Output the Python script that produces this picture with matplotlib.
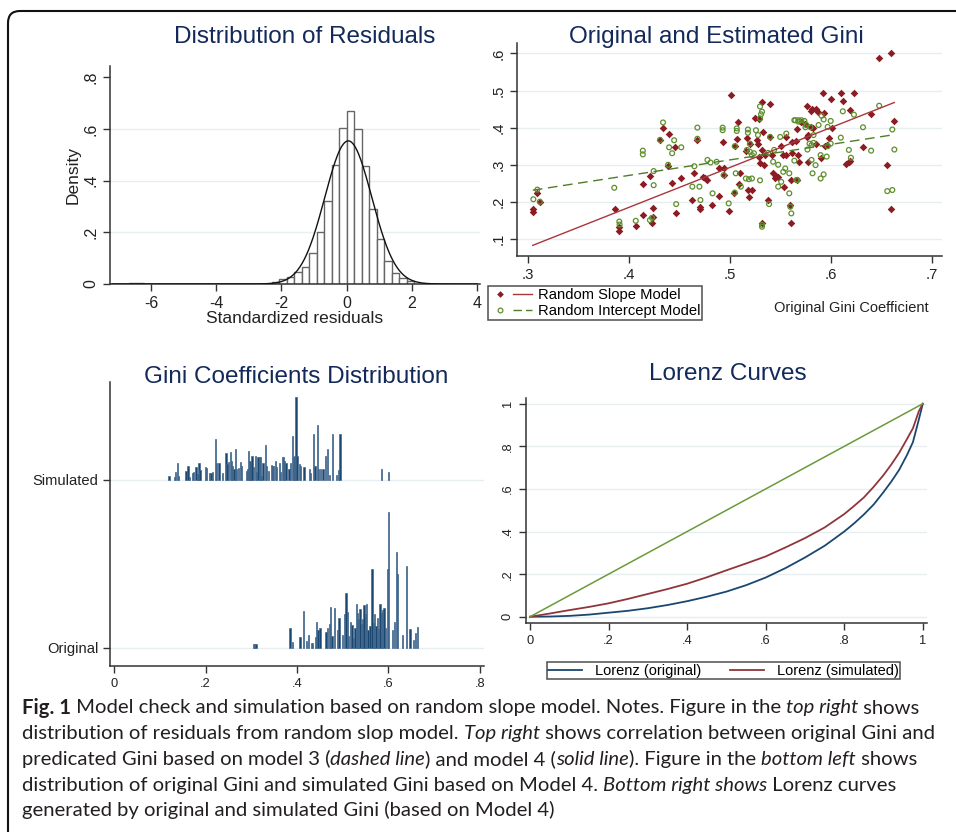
import numpy as np
import matplotlib
matplotlib.use("Agg")
import matplotlib.pyplot as plt
from matplotlib import font_manager, transforms
from matplotlib.patches import FancyBboxPatch
from matplotlib.lines import Line2D
from matplotlib.font_manager import FontProperties
from matplotlib.legend_handler import HandlerTuple

W, H = 956, 832

# ---- top left: residual histogram (bin left edges, density) ----
resid_binw = 0.23
resid_left = [-6.67, -6.44, -2.30, -2.07, -1.84, -1.61, -1.38, -1.15, -0.92, -0.69, -0.46, -0.23,
              0.00, 0.23, 0.46, 0.69, 0.92, 1.15, 1.38, 1.61, 1.84]
resid_dens = [0.004, 0.003, 0.009, 0.018, 0.028, 0.045, 0.067, 0.119, 0.200, 0.320, 0.460, 0.605,
              0.670, 0.600, 0.455, 0.290, 0.173, 0.090, 0.044, 0.022, 0.012]
resid_mean = 0.05
resid_sd = 0.72

# ---- top right: original vs estimated Gini ----
slope_x = [0.305, 0.305, 0.3095, 0.312, 0.386, 0.390, 0.390, 0.407, 0.414, 0.414, 0.421, 0.423, 0.424, 0.424,
           0.431, 0.501, 0.532, 0.540, 0.525, 0.529, 0.508, 0.434, 0.440, 0.533, 0.446, 0.468, 0.493, 0.507,
           0.505, 0.517, 0.520, 0.527, 0.528, 0.516, 0.532, 0.535, 0.540, 0.551, 0.553, 0.556, 0.562, 0.568,
           0.542, 0.529, 0.530, 0.534, 0.439, 0.452, 0.443, 0.465, 0.474, 0.476, 0.478, 0.489, 0.494, 0.494,
           0.510, 0.509, 0.504, 0.518, 0.522, 0.519, 0.489, 0.471, 0.471, 0.463, 0.482, 0.499, 0.447, 0.538,
           0.532, 0.543, 0.546, 0.548, 0.545, 0.561, 0.560, 0.561, 0.554, 0.562, 0.567, 0.556,
           0.648, 0.660, 0.592, 0.610, 0.623, 0.600, 0.612, 0.577, 0.581, 0.580, 0.585, 0.587, 0.593, 0.619,
           0.640, 0.663, 0.571, 0.575, 0.582, 0.580, 0.601, 0.566, 0.578, 0.577, 0.598, 0.585, 0.594, 0.596,
           0.569, 0.578, 0.590, 0.615, 0.618, 0.619, 0.632, 0.656, 0.660, 0.567]
slope_y = [0.182, 0.174, 0.223, 0.201, 0.181, 0.131, 0.122, 0.136, 0.248, 0.165, 0.271, 0.143, 0.158, 0.184,
           0.367, 0.488, 0.468, 0.465, 0.427, 0.422, 0.414, 0.398, 0.384, 0.389, 0.347, 0.366, 0.360, 0.369,
           0.350, 0.371, 0.357, 0.366, 0.356, 0.337, 0.340, 0.326, 0.375, 0.350, 0.326, 0.326, 0.333, 0.326,
           0.326, 0.321, 0.305, 0.299, 0.296, 0.265, 0.251, 0.277, 0.268, 0.264, 0.259, 0.290, 0.290, 0.272,
           0.277, 0.247, 0.225, 0.232, 0.232, 0.214, 0.216, 0.186, 0.180, 0.206, 0.191, 0.175, 0.169, 0.205,
           0.144, 0.277, 0.270, 0.266, 0.263, 0.259, 0.191, 0.144, 0.239, 0.362, 0.395, 0.376,
           0.587, 0.600, 0.494, 0.492, 0.494, 0.477, 0.472, 0.459, 0.450, 0.445, 0.449, 0.443, 0.440, 0.447,
           0.437, 0.418, 0.416, 0.411, 0.398, 0.402, 0.398, 0.364, 0.380, 0.375, 0.373, 0.356, 0.350, 0.353,
           0.308, 0.308, 0.317, 0.302, 0.308, 0.310, 0.348, 0.299, 0.182, 0.259]
icpt_x = [0.3056, 0.3095, 0.312, 0.3857, 0.3907, 0.391, 0.407, 0.414, 0.414, 0.421, 0.423, 0.4247, 0.4247, 0.431,
          0.434, 0.445, 0.440, 0.452, 0.443, 0.468, 0.468, 0.493, 0.493, 0.439, 0.465, 0.478, 0.481, 0.487,
          0.494, 0.463, 0.470, 0.506, 0.511, 0.505, 0.516, 0.519, 0.522, 0.530, 0.483, 0.471, 0.499, 0.447,
          0.539, 0.532, 0.532, 0.540, 0.550, 0.544, 0.555, 0.553, 0.551, 0.559, 0.560, 0.561, 0.548, 0.559,
          0.566, 0.564, 0.564, 0.568, 0.556, 0.507, 0.507, 0.505, 0.518, 0.518, 0.526, 0.528, 0.531, 0.532,
          0.530, 0.530, 0.517, 0.520, 0.522, 0.524, 0.543, 0.548, 0.520, 0.538,
          0.648, 0.612, 0.623, 0.591, 0.600, 0.593, 0.597, 0.565, 0.568, 0.571, 0.574, 0.576, 0.580, 0.575,
          0.583, 0.588, 0.632, 0.610, 0.661, 0.663, 0.640, 0.618, 0.583, 0.579, 0.577, 0.581, 0.600, 0.597,
          0.590, 0.596, 0.620, 0.581, 0.585, 0.582, 0.593, 0.590, 0.656, 0.661, 0.567]
icpt_y = [0.207, 0.233, 0.2005, 0.238, 0.147, 0.139, 0.149, 0.338, 0.328, 0.151, 0.157, 0.283, 0.245, 0.367,
          0.414, 0.366, 0.347, 0.347, 0.331, 0.400, 0.370, 0.400, 0.393, 0.300, 0.296, 0.313, 0.306, 0.308,
          0.272, 0.241, 0.241, 0.277, 0.241, 0.225, 0.263, 0.261, 0.263, 0.258, 0.223, 0.205, 0.196, 0.194,
          0.194, 0.133, 0.138, 0.375, 0.375, 0.340, 0.290, 0.281, 0.254, 0.277, 0.187, 0.169, 0.241, 0.223,
          0.259, 0.311, 0.420, 0.416, 0.384, 0.398, 0.391, 0.350, 0.395, 0.386, 0.393, 0.380, 0.436, 0.443,
          0.425, 0.457, 0.340, 0.335, 0.326, 0.331, 0.308, 0.300, 0.357, 0.332,
          0.459, 0.444, 0.435, 0.432, 0.418, 0.422, 0.402, 0.420, 0.420, 0.420, 0.418, 0.407, 0.401, 0.401,
          0.380, 0.407, 0.401, 0.373, 0.395, 0.341, 0.338, 0.340, 0.359, 0.357, 0.341, 0.353, 0.357, 0.350,
          0.326, 0.322, 0.319, 0.313, 0.299, 0.277, 0.274, 0.263, 0.229, 0.232, 0.259]
# fitted lines (coefficients of model 4 and model 3)
slope_b0, slope_b1 = -0.245, 1.075
icpt_b0, icpt_b1 = 0.104, 0.418

# ---- bottom left: spike plot of Gini values (height, 1 = gap between rows) ----
sim_x = [0.1197, 0.1321, 0.1336, 0.1379, 0.1401, 0.1569, 0.1613, 0.1642, 0.1708, 0.1729, 0.1788, 0.1817,
         0.1853, 0.1875, 0.1999, 0.2021, 0.2080, 0.2116, 0.2145, 0.2211, 0.2240, 0.2291, 0.2364, 0.2444,
         0.2466, 0.2503, 0.2546, 0.2568, 0.2590, 0.2619, 0.2656, 0.2678, 0.2721, 0.2758, 0.2780, 0.2889,
         0.2918, 0.2940, 0.2969, 0.2991, 0.3013, 0.3042, 0.3086, 0.3115, 0.3144, 0.3174, 0.3203, 0.3225,
         0.3254, 0.3305, 0.3334, 0.3371, 0.3436, 0.3458, 0.3487, 0.3524, 0.3553, 0.3611, 0.3640, 0.3677,
         0.3699, 0.3728, 0.3757, 0.3823, 0.3859, 0.3903, 0.3925, 0.3947, 0.3976, 0.3998, 0.4049, 0.4071,
         0.4151, 0.4268, 0.4297, 0.4355, 0.4392, 0.4443, 0.4472, 0.4516, 0.4567, 0.4625, 0.4669, 0.4705,
         0.4778, 0.4866, 0.4902, 0.4939, 0.5843, 0.6004]
sim_h = [0.026, 0.016, 0.046, 0.101, 0.026, 0.052, 0.082, 0.020, 0.042, 0.046, 0.080, 0.036,
         0.101, 0.060, 0.080, 0.072, 0.040, 0.044, 0.048, 0.245, 0.101, 0.101, 0.044, 0.159,
         0.095, 0.105, 0.165, 0.115, 0.085, 0.066, 0.185, 0.066, 0.072, 0.105, 0.085, 0.052,
         0.066, 0.171, 0.115, 0.105, 0.145, 0.076, 0.145, 0.046, 0.135, 0.139, 0.139, 0.026,
         0.099, 0.209, 0.085, 0.056, 0.089, 0.085, 0.082, 0.115, 0.076, 0.099, 0.046, 0.135,
         0.135, 0.115, 0.101, 0.066, 0.099, 0.264, 0.135, 0.145, 0.493, 0.145, 0.095, 0.085,
         0.080, 0.066, 0.040, 0.272, 0.085, 0.328, 0.066, 0.066, 0.066, 0.145, 0.185, 0.032,
         0.272, 0.032, 0.060, 0.272, 0.066, 0.046]
orig_x = [0.3042, 0.3071, 0.3100, 0.3844, 0.3902, 0.4063, 0.4136, 0.4209, 0.4245, 0.4318, 0.4340, 0.4398,
          0.4428, 0.4457, 0.4501, 0.4632, 0.4668, 0.4705, 0.4734, 0.4763, 0.4814, 0.4887, 0.4916, 0.4989,
          0.5040, 0.5069, 0.5099, 0.5128, 0.5172, 0.5201, 0.5230, 0.5266, 0.5296, 0.5317, 0.5347, 0.5376,
          0.5405, 0.5441, 0.5463, 0.5492, 0.5522, 0.5551, 0.5595, 0.5638, 0.5668, 0.5697, 0.5726, 0.5755,
          0.5784, 0.5813, 0.5843, 0.5872, 0.5901, 0.5930, 0.5974, 0.6003, 0.6091, 0.6127, 0.6178, 0.6200,
          0.6310, 0.6397, 0.6470, 0.6543, 0.6594, 0.6630]
orig_h = [0.022, 0.025, 0.022, 0.115, 0.034, 0.066, 0.219, 0.040, 0.074, 0.030, 0.030, 0.066,
          0.153, 0.103, 0.119, 0.095, 0.119, 0.143, 0.245, 0.070, 0.239, 0.103, 0.179, 0.074,
          0.199, 0.328, 0.215, 0.070, 0.155, 0.135, 0.060, 0.119, 0.258, 0.209, 0.169, 0.229,
          0.139, 0.169, 0.252, 0.199, 0.262, 0.103, 0.129, 0.471, 0.149, 0.203, 0.129, 0.179,
          0.109, 0.262, 0.209, 0.223, 0.239, 0.119, 0.471, 0.811, 0.103, 0.153, 0.571, 0.437,
          0.074, 0.487, 0.109, 0.044, 0.089, 0.123]

# ---- bottom right: Lorenz curves ----
lorenz_p = [0, 0.05, 0.1, 0.15, 0.2, 0.25, 0.3, 0.35, 0.4, 0.45, 0.5, 0.55, 0.6, 0.65, 0.7, 0.75,
            0.8, 0.825, 0.85, 0.875, 0.9, 0.92, 0.94, 0.96, 0.975, 0.99, 1.0]
lorenz_orig = [0, 0.001, 0.004, 0.010, 0.019, 0.028, 0.040, 0.055, 0.073, 0.094, 0.118, 0.148, 0.184, 0.228,
               0.278, 0.333, 0.400, 0.438, 0.480, 0.527, 0.585, 0.635, 0.690, 0.760, 0.820, 0.926, 1.0]
lorenz_sim = [0, 0.015, 0.031, 0.046, 0.063, 0.084, 0.107, 0.130, 0.155, 0.185, 0.218, 0.250, 0.283, 0.325,
              0.369, 0.419, 0.482, 0.520, 0.560, 0.610, 0.665, 0.715, 0.770, 0.835, 0.885, 0.965, 1.0]
equality = [0, 1]

# colours
navy = "#1a476f"
maroon = "#90353b"
title_col = "#12295a"
grid_col = "#e6eef0"
ink = "#222222"

plt.rcParams["font.family"] = ["Liberation Sans", "DejaVu Sans"]
plt.rcParams["axes.unicode_minus"] = False
fig = plt.figure(figsize=(W / 100, H / 100), dpi=100)


def px_axes(x0, y0, x1, y1):
    return fig.add_axes([x0 / W, 1 - y1 / H, (x1 - x0) / W, (y1 - y0) / H])


def style_axes(ax, size):
    for s in ["top", "right"]:
        ax.spines[s].set_visible(False)
    for s in ["left", "bottom"]:
        ax.spines[s].set_color("#333333")
        ax.spines[s].set_linewidth(1.1)
    ax.tick_params(direction="out", length=5, width=1, color="#333333",
                   labelsize=size, labelcolor=ink)
    ax.set_facecolor("none")


def hgrid(ax, levels):
    for v in levels:
        ax.axhline(v, color=grid_col, lw=1, zorder=0)


# top left
ax1 = px_axes(110, 66, 480, 284)
style_axes(ax1, 11.5)
hgrid(ax1, [0.2, 0.4, 0.6])
ax1.bar(resid_left, resid_dens, width=resid_binw, align="edge", facecolor="white",
        edgecolor="#666666", linewidth=1, zorder=2)
xs = np.linspace(-7.2, 4.0, 500)
ax1.plot(xs, np.exp(-0.5 * ((xs - resid_mean) / resid_sd) ** 2) / (resid_sd * np.sqrt(2 * np.pi)),
         color="#111111", lw=1, zorder=3)
ax1.set_xlim(-7.26, 4.09)
ax1.set_ylim(0, 0.844)
ax1.set_xticks([-6, -4, -2, 0, 2, 4])
ax1.set_yticks([0, 0.2, 0.4, 0.6, 0.8])
ax1.set_yticklabels(["0", ".2", ".4", ".6", ".8"], rotation=90, va="center")
ax1.set_xlabel("Standardized residuals", fontsize=12.5, color=ink, labelpad=0)
ax1.set_ylabel("Density", fontsize=12.5, color=ink, labelpad=2)

# top right
ax2 = px_axes(517.3, 43, 941.7, 256)
style_axes(ax2, 10.7)
hgrid(ax2, [0.1, 0.2, 0.3, 0.4, 0.5, 0.6])
ax2.scatter(slope_x, slope_y, marker="D", s=15, color="#8c1c24", linewidths=0, zorder=3)
ax2.scatter(icpt_x, icpt_y, marker="o", s=12, facecolors="none", edgecolors="#5d8f2c",
            linewidths=0.9, zorder=3)
xfit = np.array([min(slope_x), max(slope_x)])
ax2.plot(xfit, slope_b0 + slope_b1 * xfit, color="#a8373c", lw=1, zorder=4)
ax2.plot(xfit, icpt_b0 + icpt_b1 * xfit, color="#4e7d2a", lw=1, ls=(0, (7, 4)), zorder=4)
ax2.set_xlim(0.2897, 0.7099)
ax2.set_ylim(0.0542, 0.628)
ax2.set_xticks([0.3, 0.4, 0.5, 0.6, 0.7])
ax2.set_xticklabels([".3", ".4", ".5", ".6", ".7"])
ax2.set_yticks([0.1, 0.2, 0.3, 0.4, 0.5, 0.6])
ax2.set_yticklabels([".1", ".2", ".3", ".4", ".5", ".6"], rotation=90, va="center")
ax2.set_xlabel("Original Gini Coefficient", fontsize=10.5, color=ink)
ax2.xaxis.set_label_coords(0.788, -0.21)
h_slope = (Line2D([], [], ls="none", marker="D", ms=3.4, color="#8c1c24", mew=0),
           Line2D([], [], color="#a8373c", lw=1))
h_icpt = (Line2D([], [], ls="none", marker="o", ms=3.4, mfc="none", mec="#5d8f2c", mew=0.9),
          Line2D([], [], color="#4e7d2a", lw=1, ls=(0, (6, 3))))
leg2 = ax2.legend([h_slope, h_icpt], ["Random Slope Model", "Random Intercept Model"],
                  handler_map={tuple: HandlerTuple(ndivide=None, pad=0.3)},
                  loc="upper left", bbox_to_anchor=(488.3 / W, 1 - 286 / H),
                  bbox_transform=fig.transFigure, fontsize=10.6, frameon=True, fancybox=False,
                  edgecolor="#222222", borderpad=0.15, borderaxespad=0, handlelength=2.8,
                  handletextpad=0.4, labelspacing=0.1)
leg2.get_frame().set_linewidth(1.1)

# bottom left
ax3 = px_axes(110, 382, 484, 666)
style_axes(ax3, 9.3)
hgrid(ax3, [0, 1])
ax3.bar(orig_x, orig_h, width=0.0031, bottom=0, color=navy, edgecolor="#44698f", linewidth=0.5, zorder=2)
ax3.bar(sim_x, sim_h, width=0.0031, bottom=1, color=navy, edgecolor="#44698f", linewidth=0.5, zorder=2)
ax3.set_xlim(-0.0094, 0.809)
ax3.set_ylim(-0.109, 1.584)
ax3.set_xticks([0, 0.2, 0.4, 0.6, 0.8])
ax3.set_xticklabels(["0", ".2", ".4", ".6", ".8"])
ax3.set_yticks([0, 1])
ax3.set_yticklabels(["Original", "Simulated"], fontsize=10.6)

# bottom right
ax4 = px_axes(525.7, 398, 926.7, 622.7)
style_axes(ax4, 9.3)
hgrid(ax4, [0, 0.2, 0.4, 0.6, 0.8, 1.0])
l_orig, = ax4.plot(lorenz_p, lorenz_orig, color=navy, lw=1.3, zorder=3)
l_sim, = ax4.plot(lorenz_p, lorenz_sim, color=maroon, lw=1.3, zorder=3)
ax4.plot(equality, equality, color="#6b9a3a", lw=1.1, zorder=3)
ax4.set_xlim(-0.011, 1.01)
ax4.set_ylim(-0.028, 1.027)
ax4.set_xticks([0, 0.2, 0.4, 0.6, 0.8, 1.0])
ax4.set_xticklabels(["0", ".2", ".4", ".6", ".8", "1"])
ax4.set_yticks([0, 0.2, 0.4, 0.6, 0.8, 1.0])
ax4.set_yticklabels(["0", ".2", ".4", ".6", ".8", "1"], rotation=90, va="center")
leg4 = ax4.legend([l_orig, l_sim], ["Lorenz (original)", "Lorenz (simulated)"], ncol=2,
                  loc="upper left", bbox_to_anchor=(546.7 / W, 1 - 662.3 / H),
                  bbox_transform=fig.transFigure, fontsize=10.5, frameon=True, fancybox=False,
                  edgecolor="#222222", borderpad=0.1, borderaxespad=0, handlelength=2.3,
                  handletextpad=0.9, columnspacing=2.0)
leg4.get_frame().set_linewidth(1.1)

# panel titles
for txt, cx, cy in [("Distribution of Residuals", 305, 37),
                    ("Original and Estimated Gini", 716, 37),
                    ("Gini Coefficients Distribution", 296, 377),
                    ("Lorenz Curves", 728, 374)]:
    fig.text(cx / W, 1 - cy / H, txt, ha="center", va="center", fontsize=17.5, color=title_col)

# frame
frame = FancyBboxPatch((8, -60), 1100, H - 11 + 60, boxstyle="round,pad=0,rounding_size=12",
                       transform=transforms.IdentityTransform(), facecolor="none",
                       edgecolor="#111111", linewidth=1.5)
fig.patches.append(frame)

# caption with mixed styles
names = {f.name for f in font_manager.fontManager.ttflist}
cap_family = "Liberation Sans Narrow" if "Liberation Sans Narrow" in names else "Lato"
caption = [
    [("Fig. 1", "b"), (" Model check and simulation based on random slope model. Notes. Figure in the ", "n"),
     ("top right", "i"), (" shows", "n")],
    [("distribution of residuals from random slop model. ", "n"), ("Top right", "i"),
     (" shows correlation between original Gini and", "n")],
    [("predicated Gini based on model 3 (", "n"), ("dashed line", "i"), (") and model 4 (", "n"),
     ("solid line", "i"), ("). Figure in the ", "n"), ("bottom left", "i"), (" shows", "n")],
    [("distribution of original Gini and simulated Gini based on Model 4. ", "n"),
     ("Bottom right shows", "i"), (" Lorenz curves", "n")],
    [("generated by original and simulated Gini (based on Model 4)", "n")],
]
renderer = fig.canvas.get_renderer()


def fprops(kind, size):
    return FontProperties(family=cap_family, size=size,
                          weight="bold" if kind == "b" else "normal",
                          style="italic" if kind == "i" else "normal")


def seg_width(s, fp):
    w1 = renderer.get_text_width_height_descent("|" + s + "|", fp, ismath=False)[0]
    w0 = renderer.get_text_width_height_descent("||", fp, ismath=False)[0]
    return w1 - w0


line1_w = sum(seg_width(s, fprops(k, 12)) for s, k in caption[0])
cap_size = 12 * 896 / line1_w
for i, parts in enumerate(caption):
    x = 22
    y = H - (713.5 + 25.7 * i)
    for s, k in parts:
        fp = fprops(k, cap_size)
        fig.text(x, y, s, fontproperties=fp, color="#231f20", ha="left", va="baseline",
                 transform=transforms.IdentityTransform())
        x += seg_width(s, fp)

fig.savefig("out.png", dpi=100)
